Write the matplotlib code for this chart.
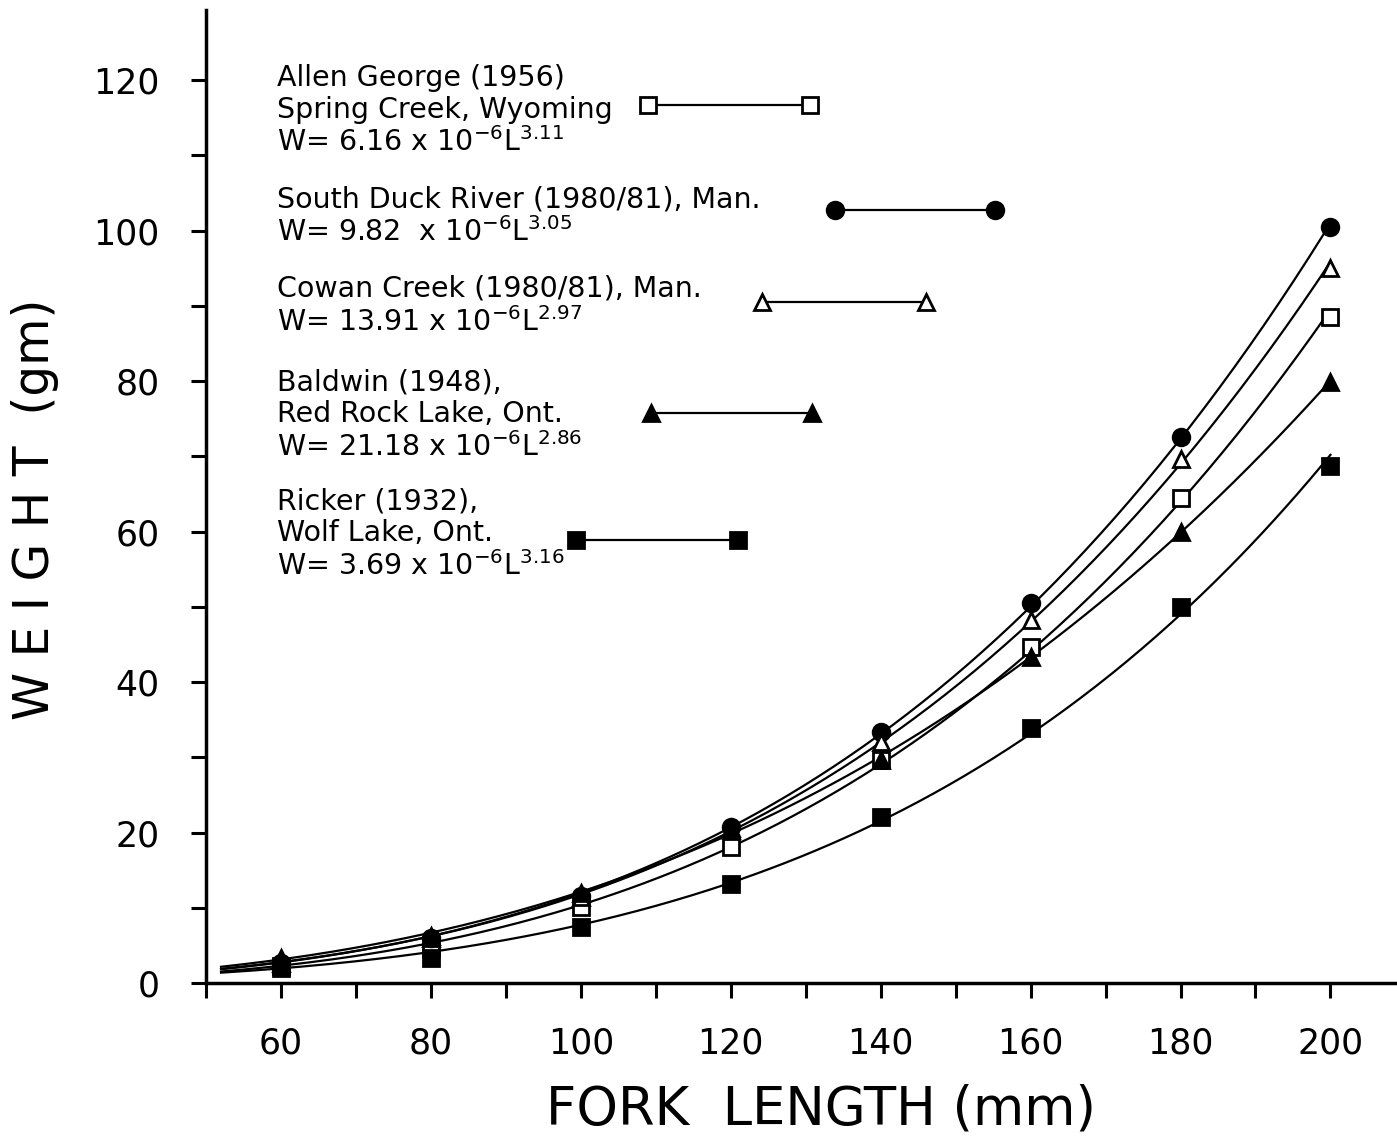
import numpy as np
import matplotlib.pyplot as plt

plt.rcParams['font.family'] = ['DejaVu Sans']
plt.rcParams['mathtext.fontset'] = 'dejavusans'

# fork length (mm) where the points are plotted
lengths = [60, 80, 100, 120, 140, 160, 180, 200]

# weight (gm)
allen_george = [2.2, 4.6, 10.1, 18.1, 29.7, 44.6, 64.5, 88.5]
south_duck = [2.6, 6.0, 11.6, 20.8, 33.4, 50.5, 72.5, 100.4]
cowan_creek = [2.7, 6.0, 11.4, 20.4, 32.0, 48.3, 69.7, 95.0]
baldwin = [3.3, 6.2, 12.0, 20.6, 29.7, 43.3, 60.0, 79.9]
ricker = [2.0, 3.3, 7.4, 13.2, 22.0, 33.9, 50.0, 68.7]

# where the drawn curves begin on the left
curve_start_len = 52
curve_start_wt = [1.9, 2.1, 2.1, 2.2, 1.7]

labels = [
    "Allen George (1956)\nSpring Creek, Wyoming\nW= 6.16 x 10$^{-6}$L$^{3.11}$",
    "South Duck River (1980/81), Man.\nW= 9.82  x 10$^{-6}$L$^{3.05}$",
    "Cowan Creek (1980/81), Man.\nW= 13.91 x 10$^{-6}$L$^{2.97}$",
    "Baldwin (1948),\nRed Rock Lake, Ont.\nW= 21.18 x 10$^{-6}$L$^{2.86}$",
    "Ricker (1932),\nWolf Lake, Ont.\nW= 3.69 x 10$^{-6}$L$^{3.16}$",
]

series = [allen_george, south_duck, cowan_creek, baldwin, ricker]
markers = ['s', 'o', '^', '^', 's']
filled = [False, True, False, True, True]

# key: text anchor (x, top y), sample segment (x0, x1, y)
key_text = [(59.5, 122.1), (59.5, 106.0), (59.5, 94.1), (59.5, 81.6), (59.5, 65.8)]
key_line = [(109.0, 130.6, 116.7), (133.9, 155.2, 102.7), (124.2, 146.0, 90.5),
            (109.4, 130.9, 75.7), (99.3, 121.0, 58.9)]

fig = plt.figure(figsize=(13.97, 11.37), dpi=100)
ax = fig.add_axes([0.1475, 0.1354, 0.851, 0.8558])

def mstyle(m, f):
    return dict(marker=m, ms=12 if m == 'o' else 11,
                mfc='black' if f else 'white', mec='black', mew=2)

xs = np.linspace(curve_start_len, 200, 300)
for vals, x0w, m, f in zip(series, curve_start_wt, markers, filled):
    # smooth curve fitted (log-log) through the read points
    lx = np.log([curve_start_len] + lengths)
    ly = np.log([x0w] + vals)
    coef = np.polyfit(lx, ly, 2, w=np.sqrt([x0w] + vals))
    ax.plot(xs, np.exp(np.polyval(coef, np.log(xs))), color='black', lw=1.6, zorder=2)
    ax.plot(lengths, vals, linestyle='none', zorder=3, **mstyle(m, f))

for (tx, ty), (x0, x1, y), lab, m, f in zip(key_text, key_line, labels, markers, filled):
    ax.text(tx, ty, lab, fontsize=20.5, va='top', ha='left', linespacing=1.16)
    ax.plot([x0, x1], [y, y], color='black', lw=1.6, **mstyle(m, f))

ax.set_xlim(50.1, 208.6)
ax.set_ylim(0, 129.3)
ax.set_xticks(np.arange(60, 201, 20))
ax.set_xticks(np.arange(50, 201, 10), minor=True)
ax.set_yticks(np.arange(0, 121, 20))
ax.set_yticks(np.arange(10, 121, 20), minor=True)

for s in ['top', 'right']:
    ax.spines[s].set_visible(False)
for s in ['left', 'bottom']:
    ax.spines[s].set_linewidth(2.5)

ax.tick_params(which='both', direction='out', length=10.5, width=2.2)
ax.tick_params(axis='x', labelsize=25, pad=21)
ax.tick_params(axis='y', labelsize=25, pad=23)

ax.set_xlabel("FORK  LENGTH (mm)", fontsize=38)
ax.xaxis.label.set_verticalalignment('center')
ax.xaxis.set_label_coords(0.517, -0.1300)
ax.set_ylabel("W E I G H T  (gm)", fontsize=35)
ax.yaxis.label.set_verticalalignment('center')
ax.yaxis.set_label_coords(-0.1440, 0.487)

fig.savefig("out.png", dpi=100)
